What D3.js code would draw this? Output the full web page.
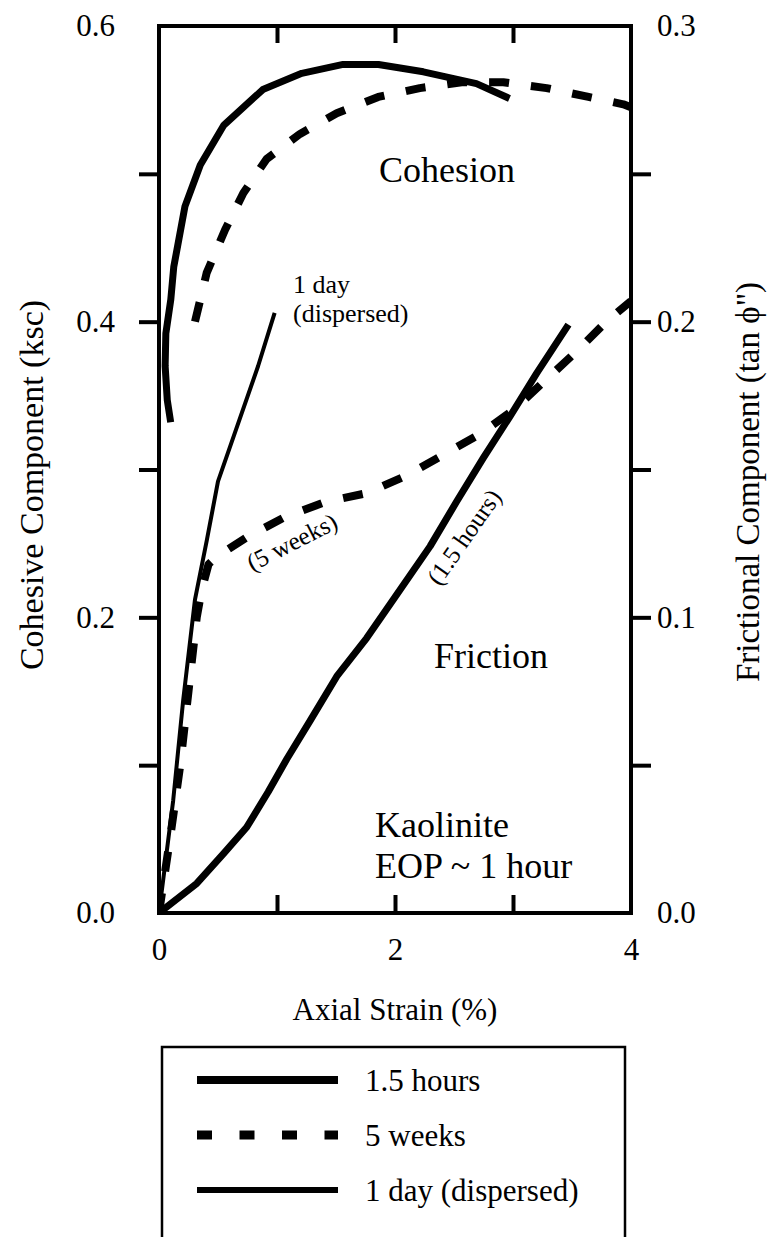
<!DOCTYPE html>
<html>
<head>
<meta charset="utf-8">
<script src="https://cdn.jsdelivr.net/npm/d3@7"></script>
<style>
  body { margin: 0; background: #fff; }
  svg { display: block; }
  text { font-family: "Liberation Serif", "Times New Roman", serif; fill: #000; }
</style>
</head>
<body>
<div id="chart"></div>
<script>
// axial strain (%) vs cohesive component (ksc)
const cohesion15h = [
  [0.099, 0.332], [0.07, 0.347], [0.052, 0.370], [0.058, 0.392], [0.10, 0.415],
  [0.125, 0.437], [0.22, 0.478], [0.35, 0.506], [0.55, 0.533], [0.88, 0.557],
  [1.21, 0.568], [1.56, 0.574], [1.86, 0.574], [2.24, 0.569], [2.69, 0.561], [2.97, 0.551]
];
const cohesion5w = [
  [0.305, 0.400], [0.404, 0.433], [0.559, 0.462], [0.715, 0.487], [0.912, 0.510],
  [1.195, 0.527], [1.506, 0.541], [1.858, 0.552], [2.21, 0.558], [2.565, 0.562],
  [2.918, 0.562], [3.285, 0.558], [3.64, 0.552], [3.935, 0.547], [4.0, 0.545]
];

// axial strain (%) vs frictional component (tan phi")
const friction15h = [
  [0, 0], [0.32, 0.010], [0.545, 0.020], [0.743, 0.029], [0.926, 0.041], [1.082, 0.052],
  [1.28, 0.065], [1.506, 0.080], [1.76, 0.093], [1.986, 0.106],
  [2.297, 0.124], [2.52, 0.139], [2.75, 0.154], [2.975, 0.168], [3.20, 0.1825], [3.47, 0.199]
];
const friction5w = [
  [0, 0], [0.10, 0.027], [0.18, 0.050], [0.25, 0.075], [0.32, 0.100], [0.36, 0.109],
  [0.42, 0.118], [0.49, 0.1205], [0.74, 0.127], [1.07, 0.134], [1.41, 0.139],
  [1.76, 0.142], [2.10, 0.148], [2.41, 0.155], [2.72, 0.162], [3.0, 0.170],
  [3.27, 0.180], [3.54, 0.190], [3.79, 0.200], [4.0, 0.207]
];
const friction1d = [
  [0, 0], [0.12, 0.038], [0.205, 0.072], [0.305, 0.106], [0.405, 0.126],
  [0.50, 0.146], [0.84, 0.185], [0.98, 0.203]
];

const xLabelTicks = [0, 2, 4];
const xMinorTicks = [1, 2, 3];
const leftLabelTicks = [0, 0.2, 0.4, 0.6];
const leftMinorTicks = [0.1, 0.2, 0.3, 0.4, 0.5];
const rightLabelTicks = [0, 0.1, 0.2, 0.3];
const rightMinorTicks = [0.05, 0.1, 0.15, 0.2, 0.25];

const legendItems = ["1.5 hours", "5 weeks", "1 day (dispersed)"];

const width = 774, height = 1237;
const plotL = 159, plotR = 631, plotT = 26, plotB = 913;

const svg = d3.select("#chart").append("svg")
  .attr("width", width)
  .attr("height", height);

const x = d3.scaleLinear().domain([0, 4]).range([plotL, plotR]);
const yL = d3.scaleLinear().domain([0, 0.6]).range([plotB, plotT]);
const yR = d3.scaleLinear().domain([0, 0.3]).range([plotB, plotT]);

svg.append("defs").append("clipPath").attr("id", "plot")
  .append("rect")
  .attr("x", plotL).attr("y", plotT)
  .attr("width", plotR - plotL).attr("height", plotB - plotT);

// tick marks (no labels)
function ticksOnly(g) {
  g.select(".domain").remove();
  g.selectAll(".tick line").attr("stroke", "#000").attr("stroke-width", 4);
  g.selectAll(".tick text").remove();
}
function labelsOnly(g, size) {
  g.select(".domain").remove();
  g.selectAll(".tick line").remove();
  g.selectAll(".tick text").attr("font-size", size).attr("fill", "#000")
    .style("font-family", '"Liberation Serif", "Times New Roman", serif');
}

svg.append("g").attr("transform", `translate(${plotL},0)`)
  .call(d3.axisLeft(yL).tickValues(leftMinorTicks).tickSize(20))
  .call(ticksOnly);
svg.append("g").attr("transform", `translate(${plotR},0)`)
  .call(d3.axisRight(yR).tickValues(rightMinorTicks).tickSize(20))
  .call(ticksOnly);
svg.append("g").attr("transform", `translate(0,${plotB})`)
  .call(d3.axisBottom(x).tickValues(xMinorTicks).tickSize(-18))
  .call(ticksOnly);
svg.append("g").attr("transform", `translate(0,${plotT})`)
  .call(d3.axisTop(x).tickValues(xMinorTicks).tickSize(-17))
  .call(ticksOnly);

svg.append("g").attr("transform", `translate(${plotL},0)`)
  .call(d3.axisLeft(yL).tickValues(leftLabelTicks).tickSize(0).tickPadding(44).tickFormat(d3.format(".1f")))
  .call(g => labelsOnly(g, 31));
svg.append("g").attr("transform", `translate(${plotR},0)`)
  .call(d3.axisRight(yR).tickValues(rightLabelTicks).tickSize(0).tickPadding(26).tickFormat(d3.format(".1f")))
  .call(g => labelsOnly(g, 31));
svg.append("g").attr("transform", `translate(0,${plotB})`)
  .call(d3.axisBottom(x).tickValues(xLabelTicks).tickSize(0).tickPadding(25).tickFormat(d3.format("d")))
  .call(g => labelsOnly(g, 31));

// frame
svg.append("rect")
  .attr("x", plotL).attr("y", plotT)
  .attr("width", plotR - plotL).attr("height", plotB - plotT)
  .attr("fill", "none").attr("stroke", "#000").attr("stroke-width", 4);

// curves
const lineL = d3.line().x(d => x(d[0])).y(d => yL(d[1]));
const lineR = d3.line().x(d => x(d[0])).y(d => yR(d[1]));

const plot = svg.append("g").attr("clip-path", "url(#plot)");

function drawCurve(data, gen, w, dash) {
  plot.append("path")
    .datum(data)
    .attr("d", gen)
    .attr("fill", "none")
    .attr("stroke", "#000")
    .attr("stroke-width", w)
    .attr("stroke-linejoin", "round")
    .attr("stroke-dasharray", dash || null);
}

drawCurve(cohesion15h, lineL, 7);
drawCurve(cohesion5w, lineL, 8, "20,22");
drawCurve(friction15h, lineR, 7);
drawCurve(friction5w, lineR, 8, "20,22");
drawCurve(friction1d, lineR, 4);

// annotations
svg.append("text").attr("x", 447).attr("y", 182)
  .attr("text-anchor", "middle").attr("font-size", 36).text("Cohesion");
svg.append("text").attr("x", 491).attr("y", 668)
  .attr("text-anchor", "middle").attr("font-size", 36).text("Friction");
svg.append("text").attr("x", 375).attr("y", 837)
  .attr("font-size", 36).text("Kaolinite");
svg.append("text").attr("x", 375).attr("y", 878)
  .attr("font-size", 36).text("EOP ~ 1 hour");
svg.append("text").attr("x", 293).attr("y", 293)
  .attr("font-size", 26).text("1 day");
svg.append("text").attr("x", 293).attr("y", 322)
  .attr("font-size", 26).text("(dispersed)");
svg.append("text")
  .attr("transform", "translate(292,542) rotate(-27)")
  .attr("text-anchor", "middle").attr("dominant-baseline", "central")
  .attr("font-size", 25).text("(5 weeks)");
svg.append("text")
  .attr("transform", "translate(464,537) rotate(-55)")
  .attr("text-anchor", "middle").attr("dominant-baseline", "central")
  .attr("font-size", 25).text("(1.5 hours)");

// axis titles
svg.append("text")
  .attr("transform", "translate(43,485) rotate(-90)")
  .attr("text-anchor", "middle").attr("font-size", 34)
  .text("Cohesive Component (ksc)");
svg.append("text")
  .attr("transform", "translate(759,482) rotate(-90)")
  .attr("text-anchor", "middle").attr("font-size", 33)
  .text("Frictional Component (tan \u03D5\")");
svg.append("text")
  .attr("x", x(2)).attr("y", 1020)
  .attr("text-anchor", "middle").attr("font-size", 31)
  .text("Axial Strain (%)");

// legend
const legend = svg.append("g");
legend.append("rect")
  .attr("x", 162).attr("y", 1047)
  .attr("width", 463).attr("height", 230)
  .attr("fill", "none").attr("stroke", "#000").attr("stroke-width", 2.5);

const legendStyles = [
  { w: 8, dash: null },
  { w: 9, dash: "15,27.5" },
  { w: 6, dash: null }
];
legendItems.forEach((name, i) => {
  const yy = 1080 + i * 55;
  legend.append("line")
    .attr("x1", 197).attr("x2", 338)
    .attr("y1", yy).attr("y2", yy)
    .attr("stroke", "#000")
    .attr("stroke-width", legendStyles[i].w)
    .attr("stroke-dasharray", legendStyles[i].dash);
  legend.append("text")
    .attr("x", 365).attr("y", yy + 11)
    .attr("font-size", 31)
    .text(name);
});
</script>
</body>
</html>
